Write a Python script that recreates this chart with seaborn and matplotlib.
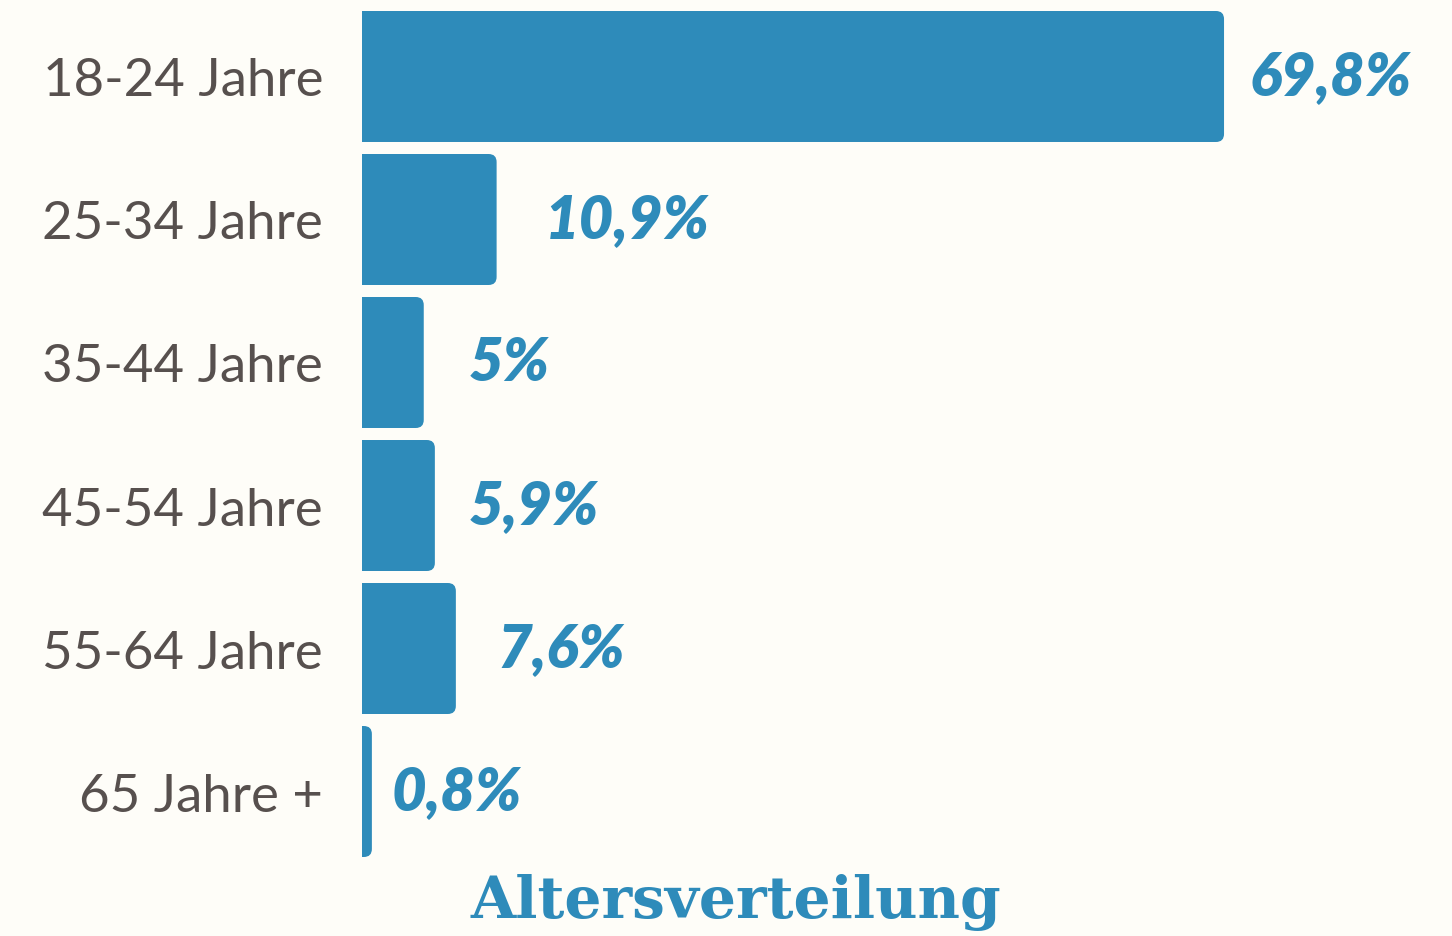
import matplotlib
matplotlib.use("Agg")
import matplotlib.pyplot as plt
from matplotlib.patches import FancyBboxPatch
import seaborn as sns
import pandas as pd

# data
groups = ["18-24 Jahre", "25-34 Jahre", "35-44 Jahre", "45-54 Jahre", "55-64 Jahre", "65 Jahre +"]
shares = [69.8, 10.9, 5.0, 5.9, 7.6, 0.8]
share_labels = ["69,8%", "10,9%", "5%", "5,9%", "7,6%", "0,8%"]
title = "Altersverteilung"

# style
bg = "#fefdf8"
blue = "#2e8bba"
grey = "#57504e"
label_pad = [18, 35, 32, 24, 30, 14]  # points right of bar end

df = pd.DataFrame({"group": groups, "share": shares})

sns.set_theme(style="white")
plt.rcParams["font.family"] = ["Lato", "DejaVu Sans"]

fig = plt.figure(figsize=(14.52, 9.37), dpi=100, facecolor=bg)
ax = fig.add_axes([362 / 1452, 79 / 937, 1090 / 1452, 846 / 937])
ax.set_facecolor(bg)

width = 0.916
sns.barplot(data=df, y="group", x="share", order=groups, color=blue,
            saturation=1, width=width, ax=ax, orient="h")

ax.set_xlim(0, 1090 / 12.35)
ax.set_ylim(len(groups) - 1 + width / 2, -width / 2)

# rounded right corners: swap rectangles for fancy boxes
r = 0.65
aspect = 12.35 / 143
for p in list(ax.patches):
    x, y = p.get_x(), p.get_y()
    w, h = p.get_width(), p.get_height()
    fb = FancyBboxPatch((x - r, y), w + r, h,
                        boxstyle=f"round,pad=0,rounding_size={r}",
                        mutation_aspect=aspect, facecolor=blue,
                        edgecolor="none", clip_on=True)
    p.remove()
    ax.add_patch(fb)

for i, (v, lab) in enumerate(zip(shares, share_labels)):
    ax.annotate(lab, (v, i), xytext=(label_pad[i], 0), textcoords="offset points",
                ha="left", va="center", fontsize=43, fontweight="heavy",
                fontstyle="italic", color=blue)

ax.set_xlabel("")
ax.set_ylabel("")
ax.set_xticks([])
ax.tick_params(axis="y", length=0, pad=28, labelsize=38, labelcolor=grey)
for t in ax.get_yticklabels():
    t.set_fontweight(400)
sns.despine(ax=ax, left=True, bottom=True)

fig.text(736 / 1452, 1 - 903 / 937, title, ha="center", va="center",
         fontsize=42, fontweight="bold", color=blue, family="DejaVu Serif")

fig.savefig("out.png", dpi=100, facecolor=bg)
